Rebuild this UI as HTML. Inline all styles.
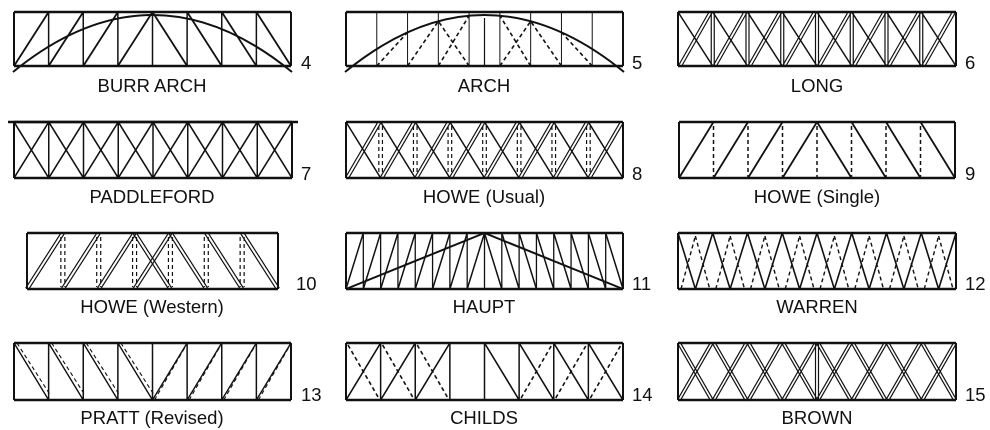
<!DOCTYPE html>
<html><head><meta charset="utf-8"><style>
body{margin:0;background:#fff;width:990px;height:430px;overflow:hidden}
svg{display:block}
text{font-family:"Liberation Sans",Arial,sans-serif;font-size:18.5px;fill:#111}
</style></head><body>
<svg id="s" width="990" height="430" viewBox="0 0 990 430" xmlns="http://www.w3.org/2000/svg">
<g id="g" stroke="#111" fill="none" stroke-linecap="butt"></g>
<text x="152" y="92" text-anchor="middle">BURR ARCH</text><text x="301" y="69">4</text>
<text x="484" y="92" text-anchor="middle">ARCH</text><text x="632" y="69">5</text>
<text x="817" y="92" text-anchor="middle">LONG</text><text x="965" y="69">6</text>
<text x="152" y="203" text-anchor="middle">PADDLEFORD</text><text x="301" y="180">7</text>
<text x="484" y="203" text-anchor="middle">HOWE (Usual)</text><text x="632" y="180">8</text>
<text x="817" y="203" text-anchor="middle">HOWE (Single)</text><text x="965" y="180">9</text>
<text x="152" y="313" text-anchor="middle">HOWE (Western)</text><text x="296" y="290">10</text>
<text x="484" y="313" text-anchor="middle">HAUPT</text><text x="632" y="290">11</text>
<text x="817" y="313" text-anchor="middle">WARREN</text><text x="965" y="290">12</text>
<text x="152" y="424" text-anchor="middle">PRATT (Revised)</text><text x="301" y="401">13</text>
<text x="484" y="424" text-anchor="middle">CHILDS</text><text x="632" y="401">14</text>
<text x="817" y="424" text-anchor="middle">BROWN</text><text x="965" y="401">15</text>
</svg>
<script>
var g=document.getElementById('g'),NS='http://www.w3.org/2000/svg';
function L(x1,y1,x2,y2,w,d){var e=document.createElementNS(NS,'line');e.setAttribute('x1',x1);e.setAttribute('y1',y1);e.setAttribute('x2',x2);e.setAttribute('y2',y2);e.setAttribute('stroke-width',w||1.5);if(d)e.setAttribute('stroke-dasharray','4,3');g.appendChild(e);}
function P(dd,w){var e=document.createElementNS(NS,'path');e.setAttribute('d',dd);e.setAttribute('stroke-width',w||2);g.appendChild(e);}
function box(x,y,w,h){L(x,y,x+w,y,2.5);L(x,y+h,x+w,y+h,2.5);L(x,y,x,y+h,2);L(x+w,y,x+w,y+h,2);}
function DL(x1,y1,x2,y2,o,d){var dx=x2-x1,dy=y2-y1,l=Math.hypot(dx,dy),nx=-dy/l*o,ny=dx/l*o;L(x1-nx,y1-ny,x2-nx,y2-ny,1.2,d);L(x1+nx,y1+ny,x2+nx,y2+ny,1.2,d);}
var CY=-42;
// 4 Burr
(function(){var x=14,y=12,w=277,h=54,n=8,p=w/n;box(x,y,w,h);
for(var i=1;i<n;i++)L(x+i*p,y,x+i*p,y+h,1.5);
for(i=0;i<n;i++){if(i<4)L(x+i*p,y+h,x+(i+1)*p,y,1.8);else L(x+i*p,y,x+(i+1)*p,y+h,1.8);}
P('M'+(x-1)+' '+(y+h+6)+' Q'+(x+w/2)+' '+CY+' '+(x+w+1)+' '+(y+h+6),2);})();
// 5 Arch
(function(){var x=346,y=12,w=277,h=54,n=9,p=w/n;box(x,y,w,h);
for(var i=1;i<n;i++)L(x+i*p,y,x+i*p,y+h,1);L(x+w/2,y+6,x+w/2,y+h,1.2);
P('M'+(x-1)+' '+(y+h+6)+' Q'+(x+w/2)+' '+CY+' '+(x+w+1)+' '+(y+h+6),2);
function ay(X){var t=(X-x+1)/(w+2);return (1-t)*(1-t)*(y+h+6)+2*t*(1-t)*CY+t*t*(y+h+6);}
[1,2].forEach(function(i){L(x+i*p,y+h,x+(i+1)*p,ay(x+(i+1)*p),1.6,1);var j=n-1-i;L(x+(j+1)*p,y+h,x+j*p,ay(x+j*p),1.6,1);});
[3,5].forEach(function(i){L(x+i*p,y+h,x+(i+1)*p,ay(x+(i+1)*p),1.6,1);L(x+(i+1)*p,y+h,x+i*p,ay(x+i*p),1.6,1);});})();
// 6 Long
(function(){var x=678,y=12,w=278,h=54,n=8,p=w/n;box(x,y,w,h);
for(var i=1;i<n;i++){L(x+i*p-1.5,y,x+i*p-1.5,y+h,1.2);L(x+i*p+1.5,y,x+i*p+1.5,y+h,1.2);}
for(i=0;i<n;i++){L(x+i*p,y,x+(i+1)*p,y+h,1.5);DL(x+i*p+2,y+h,x+(i+1)*p-2,y,1.5);}})();
// 7 Paddleford
(function(){var x=14,y=122,w=278,h=56,n=8,p=w/n;box(x,y,w,h);L(x-6,y,x+w+6,y,2.5);
for(var i=1;i<n;i++)L(x+i*p,y,x+i*p,y+h,1.5);
for(i=0;i<n;i++){L(x+i*p,y,x+(i+1)*p,y+h,1.6);L(x+i*p,y+h,x+(i+1)*p,y,1.6);}})();
// 8 Howe usual
(function(){var x=346,y=122,w=277,h=56,n=8,p=w/n;box(x,y,w,h);
for(var i=1;i<n;i++){L(x+i*p-1.8,y+4,x+i*p-1.8,y+h-4,1.2,1);L(x+i*p+1.8,y+4,x+i*p+1.8,y+h-4,1.2,1);}
for(i=0;i<n;i++){L(x+i*p,y,x+(i+1)*p,y+h,1.5);DL(x+i*p+1,y+h,x+(i+1)*p-1,y,1.5);}})();
// 9 Howe single
(function(){var x=679,y=122,w=276,h=56,n=8,p=w/n;box(x,y,w,h);
for(var i=1;i<n;i++)L(x+i*p,y+4,x+i*p,y+h,1.5,1);
for(i=0;i<n;i++){if(i<4)L(x+i*p,y+h,x+(i+1)*p,y,1.8);else L(x+i*p,y,x+(i+1)*p,y+h,1.8);}})();
// 10 Howe western
(function(){var x=27,y=233,w=251,h=56,n=7,p=w/n;box(x,y,w,h);
for(var i=1;i<n;i++){L(x+i*p-2,y+4,x+i*p-2,y+h-2,1.2,1);L(x+i*p+2,y+4,x+i*p+2,y+h-2,1.2,1);}
for(i=0;i<n;i++){if(i<=3)DL(x+i*p,y+h,x+(i+1)*p,y,1.6);if(i>=3)DL(x+i*p,y,x+(i+1)*p,y+h,1.6);}})();
// 11 Haupt
(function(){var x=346,y=233,w=277,h=56,n=16,p=w/n;box(x,y,w,h);
for(var i=1;i<n;i++)L(x+i*p,y,x+i*p,y+h,1.3);
for(i=0;i<n;i++){if(i<8)L(x+i*p,y+h,x+(i+1)*p,y,1.5);else L(x+i*p,y,x+(i+1)*p,y+h,1.5);}
L(x,y+h,x+w/2,y,2);L(x+w,y+h,x+w/2,y,2);})();
// 12 Warren
(function(){var x=678,y=233,w=278,h=56,n=8,p=w/n;box(x,y,w,h);
for(var i=0;i<n;i++){L(x+i*p,y,x+i*p+p/2,y+h,1.6);L(x+i*p+p/2,y+h,x+(i+1)*p,y,1.6);
L(x+i*p+3,y+h,x+i*p+p/2,y+3,1.4,1);L(x+i*p+p/2,y+3,x+(i+1)*p-3,y+h,1.4,1);}})();
// 13 Pratt revised
(function(){var x=14,y=343,w=277,h=57,n=8,p=w/n;box(x,y,w,h);
for(var i=1;i<n;i++)L(x+i*p,y,x+i*p,y+h,1.5);
for(i=0;i<n;i++){if(i<4){L(x+i*p,y,x+(i+1)*p,y+h,1.4);L(x+i*p+3,y,x+(i+1)*p+1,y+h-6,1.1,1);}else{L(x+i*p,y+h,x+(i+1)*p,y,1.4);L(x+i*p+2,y+h,x+(i+1)*p-2,y+4,1.1,1);}}})();
// 14 Childs
(function(){var x=346,y=343,w=277,h=57,n=8,p=w/n;box(x,y,w,h);
for(var i=1;i<n;i++)L(x+i*p,y,x+i*p,y+h,1.5);
for(i=0;i<n;i++){if(i<3){L(x+i*p,y+h,x+(i+1)*p,y,1.6);L(x+i*p+2,y+2,x+(i+1)*p-2,y+h-2,1.6,1);}
else if(i==4){L(x+i*p,y,x+(i+1)*p,y+h,1.6);}
else if(i>4){L(x+i*p,y,x+(i+1)*p,y+h,1.6);L(x+i*p+2,y+h-2,x+(i+1)*p-2,y+2,1.6,1);}}})();
// 15 Brown
(function(){var x=678,y=343,w=278,h=57,n=8,p=w/n;box(x,y,w,h);
L(x+w/2-1.5,y,x+w/2-1.5,y+h,1.2);L(x+w/2+1.5,y,x+w/2+1.5,y+h,1.2);
for(var i=0;i<n;i++){DL(x+i*p+1,y,x+(i+1)*p-1,y+h,1.4);DL(x+i*p+1,y+h,x+(i+1)*p-1,y,1.4);}})();
</script>
</body></html>
